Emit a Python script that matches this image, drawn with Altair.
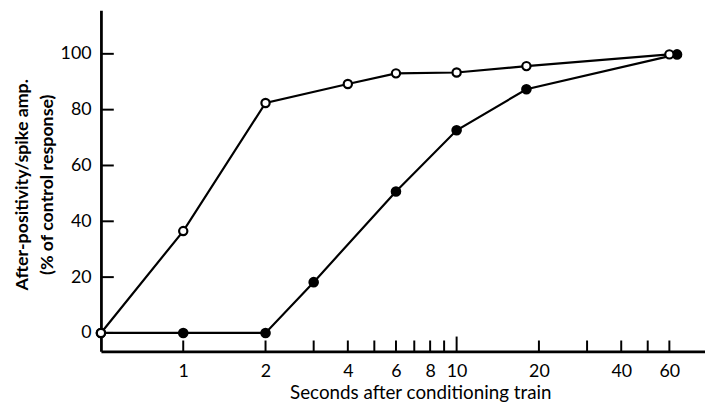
import altair as alt
import pandas as pd

# ---- data ----
open_t = [0, 1, 2, 4, 6, 10, 18, 60]
open_v = [0, 36.5, 82.4, 89.2, 93.0, 93.3, 95.6, 99.8]
filled_t = [0, 1, 2, 3, 6, 10, 18, 64]
filled_v = [0, 0, 0, 18.2, 50.7, 72.6, 87.3, 99.8]

x_label_values = [1, 2, 4, 6, 8, 10, 20, 40, 60]
x_minor_ticks = [1, 2, 3, 4, 5, 6, 7, 8, 9, 20, 30, 40, 50, 60]
x_major_ticks = [10]
y_ticks = [0, 20, 40, 60, 80, 100]
ZERO_AT = 0.5  # position where "0 s" is drawn on the log axis

FONT = "Lato"

df = pd.DataFrame(
    {
        "series": ["open"] * len(open_t) + ["filled"] * len(filled_t),
        "t": open_t + filled_t,
        "v": open_v + filled_v,
    }
)

xscale = alt.Scale(type="log", domain=[0.5, 81], nice=False)
yscale = alt.Scale(domain=[-6.6, 115.6], nice=False, zero=False)

xaxis = alt.Axis(
    values=x_label_values,
    format="d",
    ticks=False,
    grid=False,
    domainWidth=2.8,
    domainColor="black",
    labelFont=FONT,
    labelFontSize=18,
    labelColor="black",
    labelPadding=11,
    labelFlush=False,
    title="Seconds after conditioning train",
    titleFont=FONT,
    titleFontSize=19,
    titleFontWeight="normal",
    titleColor="black",
    titleBaseline="top",
    titleX=323,
    titleY=33,
)
yaxis = alt.Axis(
    values=y_ticks,
    ticks=False,
    grid=False,
    domainWidth=2.8,
    domainColor="black",
    labelFont=FONT,
    labelFontSize=18,
    labelColor="black",
    labelPadding=10,
    title=["After-positivity/spike amp.", "(% of control response)"],
    titleFont=FONT,
    titleFontSize=18,
    titleFontWeight="bold",
    titleColor="black",
    titleLineHeight=25,
    titleX=-70,
    titleY=176,
)

X = alt.X("x:Q", scale=xscale, axis=xaxis)
Y = alt.Y("y:Q", scale=yscale, axis=yaxis)

base = alt.Chart(df).transform_calculate(
    x=f"datum.t == 0 ? {ZERO_AT} : datum.t", y="datum.v"
)

line_open = base.transform_filter("datum.series == 'open'").mark_line(
    color="black", strokeWidth=2.2
).encode(x=X, y=Y)
line_filled = base.transform_filter("datum.series == 'filled'").mark_line(
    color="black", strokeWidth=2.2
).encode(x=X, y=Y)

pts_filled = base.transform_filter("datum.series == 'filled'").mark_point(
    shape="circle", filled=True, color="black", size=115, opacity=1
).encode(x=X, y=Y)
pts_open = base.transform_filter("datum.series == 'open'").mark_point(
    shape="circle", filled=True, fill="white", stroke="black", strokeWidth=2.2,
    size=70, opacity=1
).encode(x=X, y=Y)

minor = alt.Chart(pd.DataFrame({"x": x_minor_ticks})).mark_rule(
    color="black", strokeWidth=2
).encode(x=X, y=alt.value(345), y2=alt.value(334))
major = alt.Chart(pd.DataFrame({"x": x_major_ticks})).mark_rule(
    color="black", strokeWidth=2
).encode(x=X, y=alt.value(345), y2=alt.value(330))
yt = alt.Chart(pd.DataFrame({"y": y_ticks})).mark_rule(
    color="black", strokeWidth=2
).encode(y=Y, x=alt.value(0), x2=alt.value(13))

chart = (
    alt.layer(minor, major, yt, line_open, line_filled, pts_filled, pts_open)
    .properties(
        width=611,
        height=345,
        autosize=alt.AutoSizeParams(type="none"),
        padding={"left": 94, "top": 0, "right": 0, "bottom": 58},
        background="white",
    )
    .configure_view(stroke=None)
)

chart.save("out.html", embed_options={"renderer": "svg", "actions": False})
